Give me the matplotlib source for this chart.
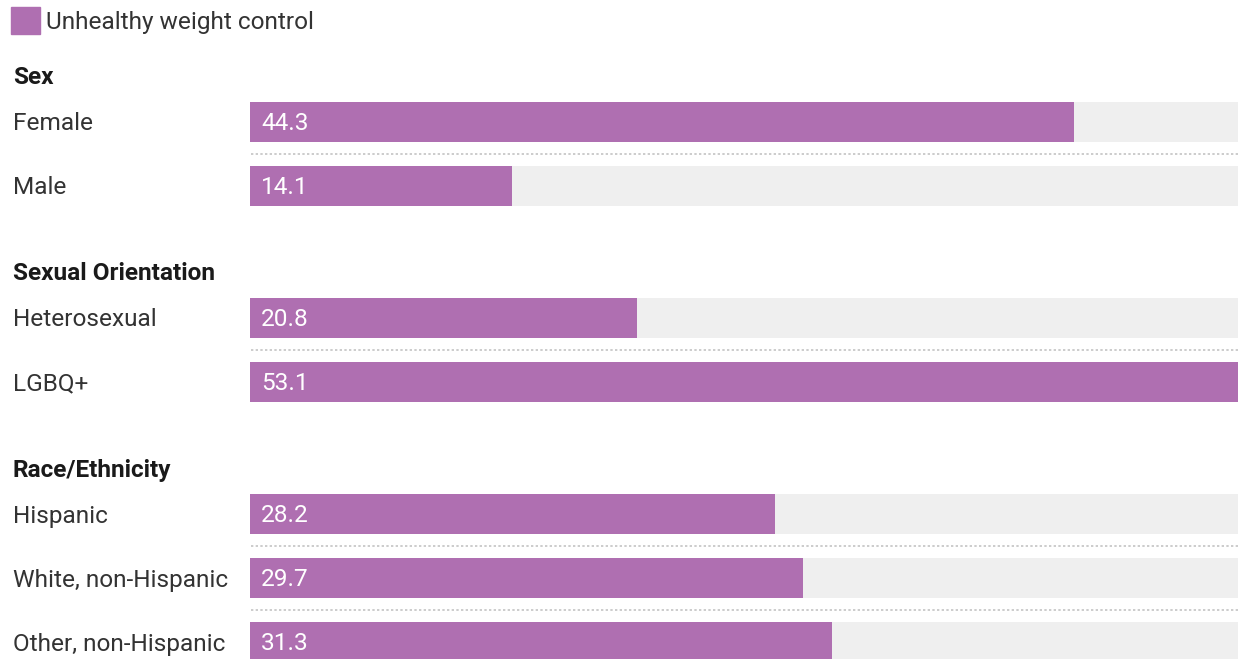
import matplotlib
matplotlib.use("Agg")
import matplotlib.pyplot as plt
from matplotlib import transforms
from matplotlib.lines import Line2D
from matplotlib.patches import Rectangle

# Share of students reporting unhealthy weight control, by group
groups = ["Sex", "Sexual Orientation", "Race/Ethnicity"]
categories = [
    ["Female", "Male"],
    ["Heterosexual", "LGBQ+"],
    ["Hispanic", "White, non-Hispanic", "Other, non-Hispanic"],
]
values = [
    [44.3, 14.1],
    [20.8, 53.1],
    [28.2, 29.7, 31.3],
]
legend_label = "Unhealthy weight control"

W, H = 1238, 659
PURPLE = "#af6fb1"
TRACK = "#efefef"
TEXT = "#333333"
FONT = "Roboto"
FS = 17.6
DY = 2  # small downward nudge so text sits centred on the bars

fig = plt.figure(figsize=(W / 100, H / 100), dpi=100)
fig.patch.set_facecolor("white")

# Bar area: x in data units, y in pixel rows from the top
ax = fig.add_axes([250 / W, 0, 1 - 250 / W, 1])
xmax = max(max(v) for v in values)
ax.set_xlim(0, xmax)
ax.set_ylim(H, 0)
ax.axis("off")

left = transforms.blended_transform_factory(fig.transFigure, ax.transData)

# Legend swatch and label
fig.patches.append(Rectangle((11 / W, 1 - 34 / H), 29 / W, 27 / H,
                             transform=fig.transFigure, color=PURPLE))
fig.text(46 / W, 1 - 22 / H, legend_label, ha="left", va="center",
         fontsize=FS, color=TEXT, family=FONT)

bar_h = 40
row_gap = 64
header_y = 77
y = header_y
for g, cats, vals in zip(groups, categories, values):
    ax.text(13 / W, y + 1, g, transform=left, ha="left", va="center",
            fontsize=FS, fontweight="bold", color="#1a1a1a", family=FONT)
    yc = y + 45
    for i, (c, v) in enumerate(zip(cats, vals)):
        ax.barh(yc, xmax, height=bar_h, color=TRACK, left=0, zorder=1)
        ax.barh(yc, v, height=bar_h, color=PURPLE, left=0, zorder=2)
        ax.text(13 / W, yc + DY, c, transform=left, ha="left", va="center",
                fontsize=FS, color=TEXT, family=FONT)
        ax.annotate(f"{v:.1f}", (0, yc), xytext=(11, -DY),
                    textcoords="offset pixels", ha="left", va="center",
                    fontsize=FS, color="white", family=FONT, zorder=3)
        if i < len(cats) - 1:
            sep = yc + row_gap / 2
            ax.add_line(Line2D([13 / W, 1], [sep, sep], transform=left,
                               color="#cccccc", lw=1.4, ls=(0, (1.2, 1.2)),
                               zorder=1))
        yc += row_gap
    y = yc - row_gap + 87

fig.savefig("out.png", dpi=100, facecolor="white")
